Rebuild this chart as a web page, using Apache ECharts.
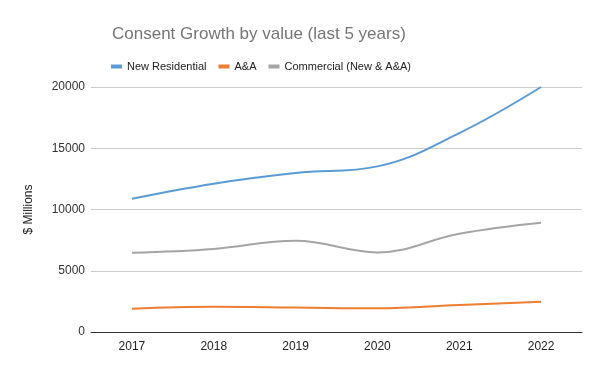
<!DOCTYPE html>
<html><head><meta charset="utf-8">
<script src="https://cdn.jsdelivr.net/npm/echarts@6/dist/echarts.min.js"></script>
<style>html,body{margin:0;padding:0;background:#fff}#c{width:600px;height:371px}</style>
</head><body><div id="c"></div>
<script>
const categories = ['2017','2018','2019','2020','2021','2022'];
const newResidential = [10880, 12110, 12980, 13520, 16240, 20000];
const aa = [1900, 2060, 2000, 1930, 2200, 2470];
const commercial = [6470, 6780, 7450, 6500, 8020, 8920];
const yTicks = [0, 5000, 10000, 15000, 20000];

const chart = echarts.init(document.getElementById('c'), null, {renderer:'canvas'});
const font = '"Liberation Sans", Arial, sans-serif';
function s(name, data, color){
  return {name, type:'line', data, smooth:0.4, symbol:'none',
    lineStyle:{width:2, color}, itemStyle:{color}};
}
chart.setOption({
  animation:false,
  textStyle:{fontFamily:font},
  title:{text:'Consent Growth by value (last 5 years)', left:107, top:21,
    textStyle:{fontSize:17, fontWeight:'normal', color:'#757575', fontFamily:font}},
  legend:{left:106, top:56, itemWidth:11, itemHeight:4, itemGap:12, icon:'rect',
    textStyle:{fontSize:11, color:'#222', fontFamily:font},
    data:['New Residential','A&A','Commercial (New & A&A)']},
  grid:{left:91, right:18, top:87, bottom:39},
  xAxis:{type:'category', data:categories, boundaryGap:true,
    axisLine:{lineStyle:{color:'#333'}}, axisTick:{show:false},
    axisLabel:{fontSize:12, color:'#222', margin:9, fontFamily:font}},
  yAxis:{type:'value', min:yTicks[0], max:yTicks[yTicks.length-1], interval:5000,
    name:'$ Millions', nameLocation:'middle', nameGap:56, nameRotate:90,
    nameTextStyle:{fontSize:12, color:'#222', fontFamily:font},
    axisLine:{show:false}, axisTick:{show:false},
    axisLabel:{fontSize:12, color:'#333', margin:6, fontFamily:font, formatter:v=>String(v)},
    splitLine:{lineStyle:{color:'#ccc'}}},
  series:[
    s('New Residential', newResidential, '#5b9bd5'),
    s('A&A', aa, '#ed7d31'),
    s('Commercial (New & A&A)', commercial, '#a5a5a5')
  ]
});
</script></body></html>
